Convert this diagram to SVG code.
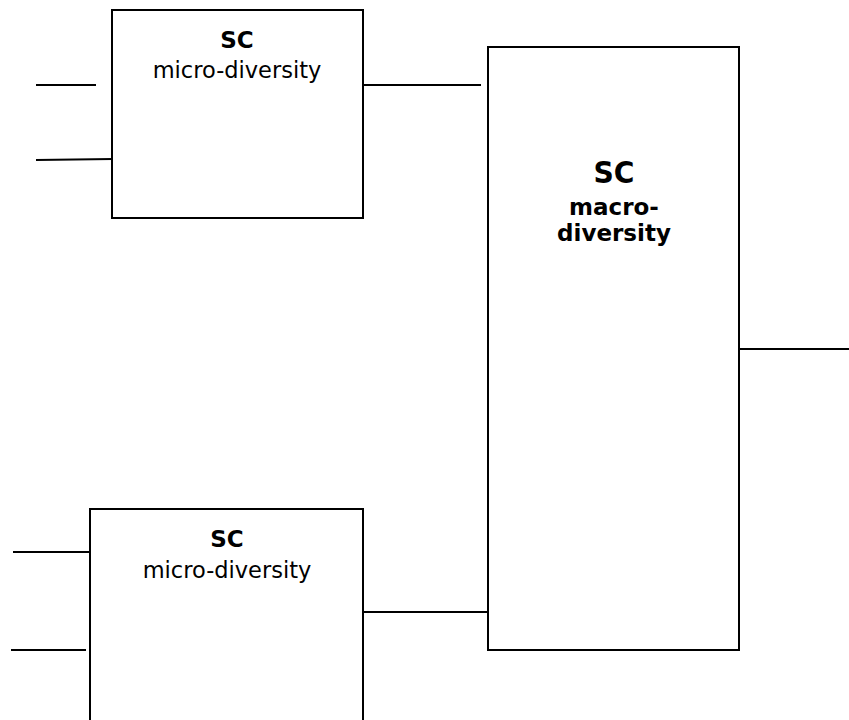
<svg xmlns="http://www.w3.org/2000/svg" width="849" height="720" viewBox="0 0 849 720">
<style>
.box{fill:#fff;stroke:#000;stroke-width:2}
.ln{stroke:#000;stroke-width:2;fill:none}
text{font-family:"DejaVu Sans","Liberation Sans",sans-serif;fill:#000;text-anchor:middle}
.b{font-weight:bold}
.t{font-size:22.5px}
.h{font-size:23px;font-weight:bold}
</style>
<rect width="849" height="720" fill="#fff"/>
<g id="connectors">
<line class="ln" x1="36" y1="85" x2="96" y2="85"/>
<line class="ln" x1="36" y1="160" x2="113" y2="159"/>
<line class="ln" x1="363" y1="85" x2="481" y2="85"/>
<line class="ln" x1="739" y1="349" x2="849" y2="349"/>
<line class="ln" x1="13" y1="552" x2="90" y2="552"/>
<line class="ln" x1="11" y1="650" x2="86" y2="650"/>
<line class="ln" x1="363" y1="612" x2="488" y2="612"/>
</g>
<g id="sc-micro-top">
<rect class="box" x="112" y="10" width="251" height="208"/>
<text class="h" x="237" y="48">SC</text>
<text class="t" x="237" y="78">micro-diversity</text>
</g>
<g id="sc-macro">
<rect class="box" x="488" y="47" width="251" height="603"/>
<text class="b" x="614" y="183" font-size="30" textLength="41" lengthAdjust="spacingAndGlyphs">SC</text>
<text class="h" x="614" y="215">macro-</text>
<text class="h" x="614" y="241">diversity</text>
</g>
<g id="sc-micro-bottom">
<rect class="box" x="90" y="509" width="273" height="230"/>
<text class="h" x="227" y="547">SC</text>
<text class="t" x="227" y="578">micro-diversity</text>
</g>
</svg>
